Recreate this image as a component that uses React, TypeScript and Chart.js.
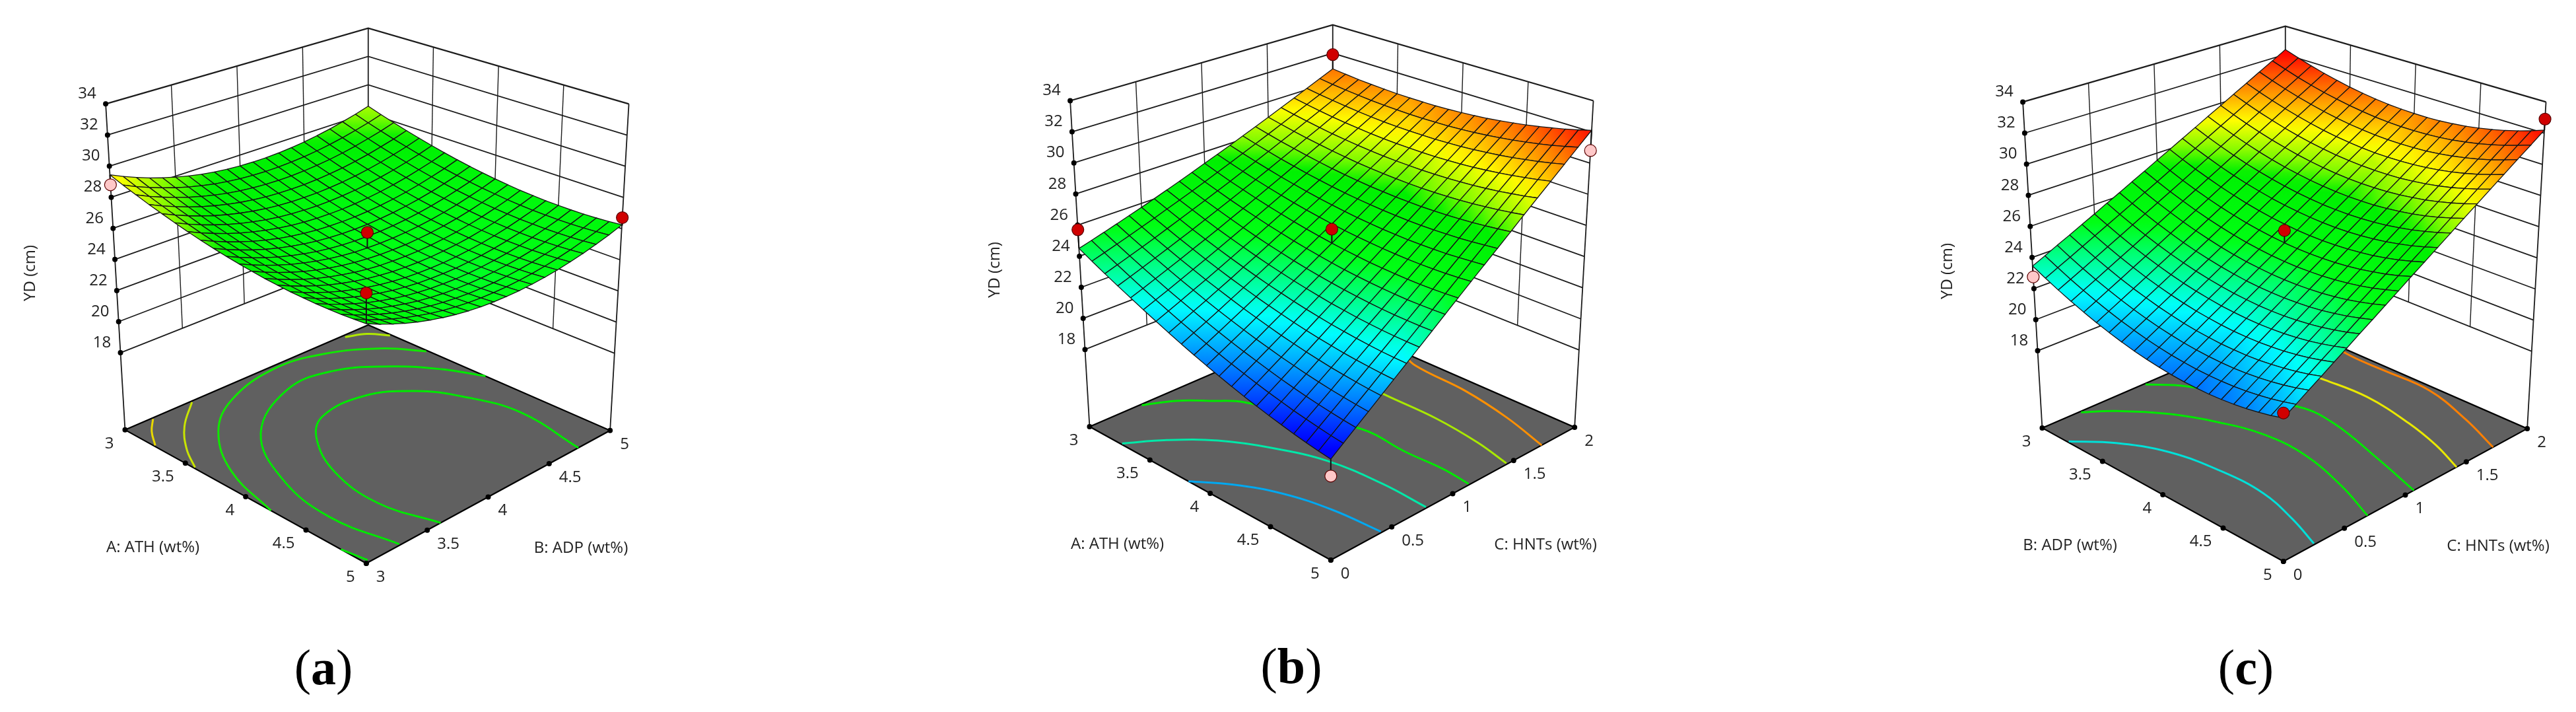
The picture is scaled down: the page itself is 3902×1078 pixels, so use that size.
import React, { useEffect, useRef } from "react";
import { Chart, registerables } from "chart.js";
Chart.register(...registerables);

const zTicks = [18, 20, 22, 24, 26, 28, 30, 32, 34];
const factorAB = [3, 3.5, 4, 4.5, 5];
const factorC = [0, 0.5, 1, 1.5, 2];
const captionLabels = ["a", "b", "c"];

// YD (cm): rows follow the left-hand factor, columns the right-hand factor
const surfaceA = [
[29.44,29.07,28.74,28.44,28.17,27.94,27.74,27.57,27.44,27.34,27.28,27.25,27.25,27.29,27.36,27.46,27.60,27.77,27.98,28.21,28.49],
[29.14,28.77,28.44,28.14,27.87,27.64,27.44,27.27,27.14,27.04,26.98,26.95,26.95,26.99,27.06,27.16,27.30,27.47,27.68,27.91,28.19],
[28.87,28.50,28.17,27.87,27.60,27.37,27.17,27.00,26.87,26.77,26.71,26.68,26.68,26.72,26.79,26.89,27.03,27.20,27.41,27.64,27.92],
[28.61,28.24,27.91,27.61,27.34,27.11,26.91,26.74,26.61,26.51,26.45,26.42,26.42,26.46,26.53,26.63,26.77,26.94,27.15,27.38,27.66],
[28.38,28.01,27.68,27.38,27.11,26.88,26.68,26.51,26.38,26.28,26.22,26.19,26.19,26.23,26.30,26.40,26.54,26.71,26.92,27.15,27.43],
[28.16,27.79,27.46,27.16,26.89,26.66,26.46,26.29,26.16,26.06,26.00,25.97,25.97,26.01,26.08,26.18,26.32,26.49,26.70,26.93,27.21],
[27.96,27.59,27.26,26.96,26.69,26.46,26.26,26.09,25.96,25.86,25.80,25.77,25.77,25.81,25.88,25.98,26.12,26.29,26.50,26.73,27.01],
[27.78,27.41,27.08,26.78,26.51,26.28,26.08,25.91,25.78,25.68,25.62,25.59,25.59,25.63,25.70,25.80,25.94,26.11,26.32,26.55,26.83],
[27.62,27.25,26.92,26.62,26.35,26.12,25.92,25.75,25.62,25.52,25.46,25.43,25.43,25.47,25.54,25.64,25.78,25.95,26.16,26.39,26.67],
[27.48,27.11,26.78,26.48,26.21,25.98,25.78,25.61,25.48,25.38,25.32,25.29,25.29,25.33,25.40,25.50,25.64,25.81,26.02,26.25,26.53],
[27.36,26.99,26.66,26.36,26.09,25.86,25.66,25.49,25.36,25.26,25.20,25.17,25.17,25.21,25.28,25.38,25.52,25.69,25.90,26.13,26.41],
[27.26,26.89,26.56,26.26,25.99,25.76,25.56,25.39,25.26,25.16,25.10,25.07,25.07,25.11,25.18,25.28,25.42,25.59,25.80,26.03,26.31],
[27.17,26.80,26.47,26.17,25.90,25.67,25.47,25.30,25.17,25.07,25.01,24.98,24.98,25.02,25.09,25.19,25.33,25.50,25.71,25.94,26.22],
[27.11,26.74,26.41,26.11,25.84,25.61,25.41,25.24,25.11,25.01,24.95,24.92,24.92,24.96,25.03,25.13,25.27,25.44,25.65,25.88,26.16],
[27.06,26.69,26.36,26.06,25.79,25.56,25.36,25.19,25.06,24.96,24.90,24.87,24.87,24.91,24.98,25.08,25.22,25.39,25.60,25.83,26.11],
[27.04,26.67,26.34,26.04,25.77,25.54,25.34,25.17,25.04,24.94,24.88,24.85,24.85,24.89,24.96,25.06,25.20,25.37,25.58,25.81,26.09],
[27.03,26.66,26.33,26.03,25.76,25.53,25.33,25.16,25.03,24.93,24.87,24.84,24.84,24.88,24.95,25.05,25.19,25.36,25.57,25.80,26.08],
[27.04,26.67,26.34,26.04,25.77,25.54,25.34,25.17,25.04,24.94,24.88,24.85,24.85,24.89,24.96,25.06,25.20,25.37,25.58,25.81,26.09],
[27.07,26.70,26.37,26.07,25.80,25.57,25.37,25.20,25.07,24.97,24.91,24.88,24.88,24.92,24.99,25.09,25.23,25.40,25.61,25.84,26.12],
[27.12,26.75,26.42,26.12,25.85,25.62,25.42,25.25,25.12,25.02,24.96,24.93,24.93,24.97,25.04,25.14,25.28,25.45,25.66,25.89,26.17],
[27.19,26.82,26.49,26.19,25.92,25.69,25.49,25.32,25.19,25.09,25.03,25.00,25.00,25.04,25.11,25.21,25.35,25.52,25.73,25.96,26.24],
];
const surfaceB = [
[24.50,24.73,24.97,25.22,25.48,25.74,26.02,26.31,26.60,26.91,27.23,27.55,27.88,28.23,28.58,28.94,29.32,29.70,30.09,30.49,30.90],
[24.06,24.31,24.57,24.83,25.11,25.39,25.69,25.99,26.30,26.62,26.96,27.30,27.65,28.01,28.38,28.76,29.15,29.55,29.95,30.37,30.80],
[23.64,23.91,24.18,24.46,24.75,25.06,25.37,25.69,26.02,26.36,26.70,27.06,27.43,27.81,28.19,28.59,29.00,29.41,29.84,30.27,30.71],
[23.24,23.52,23.81,24.11,24.42,24.74,25.06,25.40,25.75,26.10,26.47,26.84,27.23,27.62,28.03,28.44,28.86,29.29,29.74,30.19,30.65],
[22.86,23.15,23.46,23.78,24.10,24.44,24.78,25.13,25.50,25.87,26.25,26.64,27.04,27.46,27.88,28.31,28.74,29.19,29.65,30.12,30.60],
[22.49,22.80,23.12,23.46,23.80,24.15,24.51,24.88,25.26,25.65,26.05,26.46,26.88,27.30,27.74,28.19,28.64,29.11,29.58,30.07,30.56],
[22.14,22.47,22.81,23.16,23.51,23.88,24.26,24.65,25.04,25.45,25.87,26.29,26.73,27.17,27.62,28.09,28.56,29.04,29.53,30.04,30.55],
[21.80,22.15,22.51,22.87,23.25,23.63,24.03,24.43,24.84,25.27,25.70,26.14,26.59,27.05,27.52,28.00,28.49,28.99,29.50,30.02,30.55],
[21.48,21.85,22.22,22.60,23.00,23.40,23.81,24.23,24.66,25.10,25.55,26.01,26.48,26.95,27.44,27.94,28.44,28.96,29.49,30.02,30.56],
[21.18,21.56,21.95,22.35,22.76,23.18,23.61,24.05,24.49,24.95,25.42,25.89,26.38,26.87,27.37,27.89,28.41,28.95,29.49,30.04,30.60],
[20.90,21.30,21.70,22.12,22.55,22.98,23.43,23.88,24.34,24.82,25.30,25.79,26.29,26.81,27.33,27.86,28.40,28.95,29.50,30.07,30.65],
[20.63,21.05,21.47,21.90,22.35,22.80,23.26,23.73,24.21,24.70,25.20,25.71,26.23,26.76,27.29,27.84,28.40,28.96,29.54,30.12,30.72],
[20.38,20.82,21.26,21.71,22.16,22.63,23.11,23.60,24.10,24.60,25.12,25.65,26.18,26.73,27.28,27.84,28.42,29.00,29.59,30.19,30.80],
[20.15,20.60,21.06,21.52,22.00,22.48,22.98,23.48,24.00,24.52,25.05,25.60,26.15,26.71,27.28,27.86,28.45,29.05,29.66,30.28,30.91],
[19.94,20.40,20.87,21.36,21.85,22.35,22.86,23.39,23.92,24.46,25.01,25.57,26.13,26.71,27.30,27.90,28.51,29.12,29.75,30.38,31.03],
[19.74,20.22,20.71,21.21,21.72,22.24,22.77,23.30,23.85,24.41,24.98,25.55,26.14,26.73,27.34,27.95,28.57,29.21,29.85,30.50,31.16],
[19.56,20.05,20.56,21.08,21.60,22.14,22.69,23.24,23.80,24.38,24.96,25.55,26.16,26.77,27.39,28.02,28.66,29.31,29.97,30.64,31.32],
[19.39,19.91,20.43,20.96,21.51,22.06,22.62,23.19,23.77,24.36,24.96,25.57,26.19,26.82,27.46,28.11,28.76,29.43,30.11,30.79,31.49],
[19.24,19.78,20.32,20.87,21.43,22.00,22.57,23.16,23.76,24.37,24.98,25.61,26.25,26.89,27.55,28.21,28.89,29.57,30.26,30.96,31.67],
[19.11,19.66,20.22,20.79,21.36,21.95,22.54,23.15,23.76,24.39,25.02,25.66,26.32,26.98,27.65,28.33,29.02,29.72,30.43,31.15,31.88],
[19.00,19.57,20.14,20.72,21.32,21.92,22.53,23.15,23.78,24.43,25.08,25.74,26.40,27.07,27.76,28.47,29.18,29.89,30.62,31.36,32.10],
];
const surfaceC = [
[23.45,23.82,24.21,24.59,24.99,25.39,25.81,26.22,26.65,27.08,27.53,27.97,28.43,28.89,29.37,29.84,30.33,30.82,31.33,31.83,32.35],
[23.05,23.43,23.81,24.21,24.61,25.02,25.43,25.85,26.29,26.72,27.17,27.62,28.08,28.55,29.03,29.51,30.00,30.50,31.01,31.52,32.04],
[22.68,23.06,23.45,23.85,24.26,24.67,25.09,25.52,25.95,26.39,26.84,27.30,27.77,28.24,28.72,29.21,29.70,30.21,30.72,31.23,31.76],
[22.34,22.73,23.12,23.53,23.94,24.35,24.78,25.21,25.65,26.10,26.55,27.02,27.48,27.96,28.45,28.94,29.44,29.95,30.46,30.98,31.51],
[22.04,22.43,22.83,23.23,23.65,24.07,24.50,24.94,25.38,25.83,26.29,26.76,27.23,27.71,28.20,28.70,29.20,29.72,30.24,30.76,31.30],
[21.76,22.16,22.56,22.97,23.39,23.82,24.25,24.69,25.14,25.60,26.06,26.54,27.01,27.50,27.99,28.50,29.00,29.52,30.04,30.58,31.11],
[21.52,21.92,22.33,22.75,23.17,23.60,24.04,24.48,24.94,25.40,25.87,26.34,26.83,27.32,27.81,28.32,28.83,29.35,29.88,30.42,30.96],
[21.31,21.72,22.13,22.55,22.98,23.41,23.86,24.31,24.76,25.23,25.70,26.18,26.67,27.17,27.67,28.18,28.70,29.22,29.75,30.30,30.84],
[21.13,21.54,21.96,22.39,22.82,23.26,23.71,24.16,24.62,25.09,25.57,26.05,26.55,27.05,27.55,28.07,28.59,29.12,29.66,30.20,30.75],
[20.99,21.40,21.83,22.25,22.69,23.14,23.59,24.05,24.51,24.99,25.47,25.96,26.46,26.96,27.47,27.99,28.52,29.05,29.59,30.14,30.70],
[20.88,21.29,21.72,22.15,22.60,23.04,23.50,23.96,24.44,24.91,25.40,25.89,26.40,26.90,27.42,27.94,28.48,29.01,29.56,30.11,30.68],
[20.79,21.22,21.65,22.09,22.53,22.99,23.45,23.91,24.39,24.87,25.36,25.86,26.37,26.88,27.40,27.93,28.47,29.01,29.56,30.12,30.68],
[20.74,21.17,21.61,22.05,22.50,22.96,23.42,23.90,24.38,24.86,25.36,25.86,26.37,26.89,27.42,27.95,28.49,29.04,29.59,30.15,30.72],
[20.73,21.16,21.60,22.05,22.50,22.96,23.43,23.91,24.40,24.89,25.39,25.90,26.41,26.93,27.46,28.00,28.54,29.10,29.65,30.22,30.80],
[20.74,21.18,21.62,22.07,22.53,23.00,23.47,23.96,24.45,24.94,25.45,25.96,26.48,27.00,27.54,28.08,28.63,29.19,29.75,30.32,30.90],
[20.79,21.23,21.68,22.13,22.60,23.07,23.55,24.03,24.53,25.03,25.54,26.06,26.58,27.11,27.65,28.20,28.75,29.31,29.88,30.46,31.04],
[20.87,21.31,21.77,22.23,22.69,23.17,23.65,24.14,24.64,25.15,25.66,26.18,26.71,27.25,27.79,28.34,28.90,29.46,30.04,30.62,31.21],
[20.98,21.43,21.89,22.35,22.82,23.30,23.79,24.29,24.79,25.30,25.82,26.34,26.88,27.42,27.96,28.52,29.08,29.65,30.23,30.82,31.41],
[21.12,21.57,22.04,22.51,22.98,23.47,23.96,24.46,24.97,25.48,26.00,26.53,27.07,27.62,28.17,28.73,29.30,29.87,30.45,31.04,31.64],
[21.29,21.75,22.22,22.69,23.18,23.67,24.16,24.67,25.18,25.70,26.22,26.76,27.30,27.85,28.41,28.97,29.54,30.12,30.71,31.30,31.90],
[21.50,21.96,22.44,22.91,23.40,23.89,24.40,24.90,25.42,25.94,26.48,27.01,27.56,28.11,28.68,29.24,29.82,30.40,31.00,31.58,32.20],
];

// Floor contours, [left factor, right factor]
const contoursA = [
  [[3.01,3.22],[3.11,3.11],[3.24,3.01]],
  [[3.01,3.54],[3.19,3.30],[3.39,3.12],[3.57,3.01]],
  [[3.49,4.99],[3.28,4.84],[3.09,4.54],[3.03,4.19],[3.14,3.74],[3.36,3.41],[3.74,3.14],[4.21,3.0]],
  [[3.97,5],[3.72,4.89],[3.48,4.71],[3.28,4.42],[3.27,4.06],[3.54,3.58],[4,3.30],[4.49,3.20],[4.99,3.28]],
  [[5,4.74],[4.44,4.82],[4.05,4.73],[3.80,4.59],[3.63,4.33],[3.64,3.99],[3.80,3.78],[4.15,3.58],[4.58,3.51],[5,3.61]],
  [[3.02,4.79],[3.08,4.91],[3.19,4.99]],
  [[4.79,3],[4.98,3.03]],
];
const contourColorsA = ["#e8d800", "#c8e400", "#10e800", "#00e800", "#00e800", "#b0e800", "#00e800"];
const contoursB = [
  [[3.57,2.0],[3.75,1.93],[4.2,1.90],[4.61,1.83],[5,1.73]],
  [[3.6,1.56],[3.89,1.55],[4.31,1.55],[4.69,1.51],[4.99,1.45]],
  [[3.01,0.42],[3.10,0.61],[3.23,0.76],[3.38,0.90],[4.07,1.16],[4.47,1.15],[4.76,1.16],[4.99,1.14]],
  [[3.26,0.01],[3.40,0.24],[3.60,0.46],[3.87,0.63],[4.21,0.76],[4.62,0.80],[4.99,0.79]],
  [[3.82,0],[4.02,0.17],[4.29,0.31],[4.62,0.39],[4.99,0.42]],
];
const contourColorsB = ["#ff9000", "#a8e800", "#00e800", "#00e8a8", "#00a8f0"];
const contoursC = [
  [[3.32,2],[3.58,1.96],[3.85,1.96],[4.23,1.96],[4.64,1.85],[5,1.72]],
  [[3.4,1.6],[3.69,1.64],[4.02,1.66],[4.42,1.60],[4.73,1.52],[5,1.42]],
  [[3.01,0.84],[3.18,1.00],[3.82,1.30],[4.11,1.30],[4.56,1.19],[5,1.07]],
  [[3.01,0.31],[3.13,0.48],[3.36,0.69],[3.62,0.83],[3.91,0.92],[4.25,0.92],[4.65,0.82],[5,0.69]],
  [[3.21,0.01],[3.40,0.21],[3.68,0.37],[4.05,0.44],[4.39,0.44],[4.71,0.36],[4.99,0.26]],
];
const contourColorsC = ["#ff8000", "#e8e800", "#00e800", "#00e800", "#00e0d8"];

// Design points: left factor, right factor, measured YD
const designA = [[3,3,28.8],[5,5,26.7],[4,4,26.2],[5,3,29.0]];
const designB = [[3,0,25.7],[3,2,31.9],[5,2,30.8],[4,1,26.2],[5,0,18.0]];
const designC = [[3,0,22.75],[5,2,32.9],[4,1,26.2],[5,0,21.8]];

const panelConfigs = [
  { left: 0, dy: 0, surface: surfaceA, contours: contoursA, contourColors: contourColorsA, design: designA,
    uVals: factorAB, vVals: factorAB, uName: "A: ATH (wt%)", vName: "B: ADP (wt%)" },
  { left: 1461, dy: -5, surface: surfaceB, contours: contoursB, contourColors: contourColorsB, design: designB,
    uVals: factorAB, vVals: factorC, uName: "A: ATH (wt%)", vName: "C: HNTs (wt%)" },
  { left: 2904, dy: -3, surface: surfaceC, contours: contoursC, contourColors: contourColorsC, design: designC,
    uVals: factorAB, vVals: factorC, uName: "B: ADP (wt%)", vName: "C: HNTs (wt%)" },
];

const captionPlaces = [{ x: 490, y: 1010 }, { x: 1956, y: 1008 }, { x: 3402, y: 1010 }];

// View box of the 3D frame
const BOX = {
  floor: { L: [183, 653], F: [556, 859], R: [933, 654], B: [559, 491] },
  top: { L: [153, 150], F: [556, 311], R: [962, 150], B: [559, 33] },
  zFloor: 13.04,
  zTop: 34,
};
const INK = "#1c1c1c";
const FONT = '24px "Open Sans"';
const CANVAS_W = 998;
const CANVAS_H = 1078;

const colorZ = [19.3, 22.6, 25.0, 27.3, 27.9, 29.1, 30.9, 32.0];
const colorRGB = [[0,0,255],[0,255,255],[0,255,20],[0,240,0],[120,250,0],[255,255,0],[255,100,0],[255,0,0]];

function colorAt(z: number) {
  if (z <= colorZ[0]) return `rgb(${colorRGB[0].join(",")})`;
  for (let i = 1; i < colorZ.length; i++) {
    if (z <= colorZ[i]) {
      const f = (z - colorZ[i - 1]) / (colorZ[i] - colorZ[i - 1]);
      const c = colorRGB[i - 1].map((a, k) => Math.round(a + (colorRGB[i][k] - a) * f));
      return `rgb(${c.join(",")})`;
    }
  }
  return `rgb(${colorRGB[colorRGB.length - 1].join(",")})`;
}

function bilerp(q: any, s: number, t: number, k: number) {
  return (1 - s) * (1 - t) * q.L[k] + s * (1 - t) * q.F[k] + s * t * q.R[k] + (1 - s) * t * q.B[k];
}

function makeProjector(cfg: any) {
  const uMin = cfg.uVals[0], uMax = cfg.uVals[cfg.uVals.length - 1];
  const vMin = cfg.vVals[0], vMax = cfg.vVals[cfg.vVals.length - 1];
  return (u: number, v: number, z: number | null) => {
    const s = (u - uMin) / (uMax - uMin);
    const t = (v - vMin) / (vMax - vMin);
    const w = z === null ? 0 : (z - BOX.zFloor) / (BOX.zTop - BOX.zFloor);
    const fx = bilerp(BOX.floor, s, t, 0), fy = bilerp(BOX.floor, s, t, 1);
    const tx = bilerp(BOX.top, s, t, 0), ty = bilerp(BOX.top, s, t, 1);
    return { x: fx + (tx - fx) * w, y: fy + (ty - fy) * w + cfg.dy };
  };
}

function lineSet(data: any[], color: string, width: number, extra: any = {}) {
  return { data, showLine: true, borderColor: color, borderWidth: width, pointRadius: 0, fill: false, clip: false, ...extra };
}

function buildDatasets(cfg: any, ctx: CanvasRenderingContext2D) {
  const P = makeProjector(cfg);
  const us = cfg.uVals, vs = cfg.vVals;
  const u0 = us[0], u1 = us[us.length - 1], v0 = vs[0], v1 = vs[vs.length - 1];
  const out: any[] = [];

  // floor
  out.push(lineSet([P(u0, v0, null), P(u1, v0, null), P(u1, v1, null), P(u0, v1, null), P(u0, v0, null)], "#000", 2.2,
    { fill: "shape", backgroundColor: "#606060" }));
  // contours
  cfg.contours.forEach((c: number[][], i: number) => {
    out.push(lineSet(c.map((p) => P(p[0], p[1], null)), cfg.contourColors[i], 3, { tension: 0.4 }));
  });
  // walls
  zTicks.forEach((z) => {
    out.push(lineSet([P(u0, v0, z), P(u0, v1, z), P(u1, v1, z)], INK, z === 34 ? 2.2 : 1.8));
  });
  for (const u of us.slice(1, -1)) out.push(lineSet([P(u, v1, 18), P(u, v1, 34)], INK, 1.4));
  for (const v of vs.slice(1, -1)) out.push(lineSet([P(u0, v, 18), P(u0, v, 34)], INK, 1.4));
  out.push(lineSet([P(u0, v0, null), P(u0, v0, 34)], INK, 1.8));
  out.push(lineSet([P(u0, v1, null), P(u0, v1, 34)], INK, 1.8));
  out.push(lineSet([P(u1, v1, null), P(u1, v1, 34)], INK, 1.8));
  // tick dots
  const dots: any[] = zTicks.map((z) => P(u0, v0, z));
  us.forEach((u: number) => dots.push(P(u, v0, null)));
  vs.forEach((v: number) => dots.push(P(u1, v, null)));
  out.push({ data: dots, showLine: false, pointRadius: 4, pointBackgroundColor: "#000", pointBorderWidth: 0, clip: false });

  // surface, back corner first
  const table: number[][] = cfg.surface;
  const n = table.length - 1;
  const uAt = (i: number) => u0 + ((u1 - u0) * i) / n;
  const vAt = (j: number) => v0 + ((v1 - v0) * j) / n;
  for (let i = 0; i < n; i++) {
    for (let j = n - 1; j >= 0; j--) {
      const idx = [[i, j], [i + 1, j], [i + 1, j + 1], [i, j + 1]];
      const pts = idx.map(([a, b]) => P(uAt(a), vAt(b), table[a][b]));
      const zs = idx.map(([a, b]) => table[a][b]);
      const lo = zs.indexOf(Math.min(...zs)), hi = zs.indexOf(Math.max(...zs));
      const g = ctx.createLinearGradient(pts[lo].x, pts[lo].y, pts[hi].x, pts[hi].y);
      g.addColorStop(0, colorAt(zs[lo]));
      g.addColorStop(0.5, colorAt((zs[lo] + zs[hi]) / 2));
      g.addColorStop(1, colorAt(zs[hi]));
      out.push(lineSet([...pts, pts[0]], "#141414", 1.3, { fill: "shape", backgroundColor: g }));
    }
  }
  // design points and their drop lines to the surface
  cfg.design.forEach((d: number[]) => {
    const i = Math.round(((d[0] - u0) / (u1 - u0)) * n);
    const j = Math.round(((d[1] - v0) / (v1 - v0)) * n);
    const sz = table[i][j];
    const above = d[2] >= sz;
    out.push({
      data: [P(d[0], d[1], sz), P(d[0], d[1], d[2])],
      showLine: true, borderColor: "#111", borderWidth: 2, fill: false, clip: false,
      pointRadius: [0, 9], pointBorderWidth: 1.2, pointBorderColor: "#5a0000",
      pointBackgroundColor: above ? "#d00000" : "#ffc8c8",
    });
  });
  return out.reverse(); // Chart.js paints the first dataset last
}

function labelsPlugin(cfg: any) {
  const P = makeProjector(cfg);
  const us = cfg.uVals, vs = cfg.vVals;
  const u0 = us[0], u1 = us[us.length - 1], v0 = vs[0];
  return {
    id: "panelLabels",
    afterDatasetsDraw(chart: any) {
      const { ctx, scales } = chart;
      const X = (p: any) => scales.x.getPixelForValue(p.x);
      const Y = (p: any) => scales.y.getPixelForValue(p.y);
      ctx.save();
      ctx.fillStyle = "#222";
      ctx.font = FONT;
      ctx.textBaseline = "middle";
      ctx.textAlign = "center";
      zTicks.forEach((z) => {
        const p = P(u0, v0, z);
        ctx.fillText(String(z), X(p) - 28, Y(p) - 15);
      });
      ctx.textAlign = "right";
      us.forEach((u: number) => {
        const p = P(u, v0, null);
        ctx.fillText(String(u), X(p) - 17, Y(p) + 21);
      });
      ctx.textAlign = "left";
      vs.forEach((v: number) => {
        const p = P(u1, v, null);
        ctx.fillText(String(v), X(p) + 15, Y(p) + 21);
      });
      ctx.textAlign = "center";
      ctx.fillText(cfg.uName, X({ x: 226 }), Y({ y: 835 + cfg.dy }));
      ctx.fillText(cfg.vName, X({ x: 888 }), Y({ y: 836 + cfg.dy }));
      ctx.translate(X({ x: 37 }), Y({ y: 411 + cfg.dy }));
      ctx.rotate(-Math.PI / 2);
      ctx.fillText("YD (cm)", 0, 0);
      ctx.restore();
    },
  };
}

function Panel({ cfg }: { cfg: any }) {
  const ref = useRef<HTMLCanvasElement | null>(null);
  useEffect(() => {
    const canvas = ref.current!;
    const ctx = canvas.getContext("2d")!;
    const chart = new Chart(canvas, {
      type: "scatter",
      data: { datasets: buildDatasets(cfg, ctx) },
      options: {
        animation: false,
        responsive: false,
        devicePixelRatio: 1,
        events: [],
        layout: { padding: 0 },
        plugins: { legend: { display: false }, tooltip: { enabled: false }, title: { display: false } },
        scales: {
          x: { type: "linear", min: 0, max: CANVAS_W, display: false },
          y: { type: "linear", min: 0, max: CANVAS_H, reverse: true, display: false },
        },
      },
      plugins: [labelsPlugin(cfg)],
    } as any);
    return () => chart.destroy();
  }, [cfg]);
  return (
    <canvas ref={ref} width={CANVAS_W} height={CANVAS_H}
      style={{ position: "absolute", left: cfg.left, top: 0, width: CANVAS_W, height: CANVAS_H }} />
  );
}

export default function App() {
  return (
    <div style={{ position: "absolute", left: 0, top: 0, width: 3902, height: 1078, overflow: "hidden", background: "#fff" }}>
      {panelConfigs.map((c, i) => <Panel key={i} cfg={c} />)}
      {captionLabels.map((l, i) => (
        <div key={l} style={{
          position: "absolute", left: captionPlaces[i].x - 100, top: captionPlaces[i].y - 50, width: 200, height: 100,
          lineHeight: "100px", textAlign: "center", fontFamily: '"Liberation Serif", serif', fontSize: 76, color: "#000",
        }}>(<b>{l}</b>)</div>
      ))}
    </div>
  );
}
